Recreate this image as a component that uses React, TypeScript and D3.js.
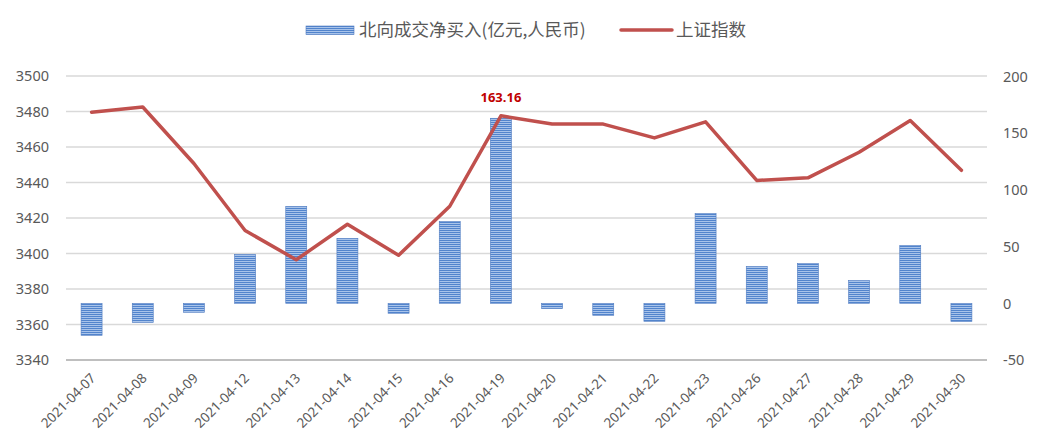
import React from "react";
import * as d3 from "d3";

const dates = [
  "2021-04-07", "2021-04-08", "2021-04-09", "2021-04-12", "2021-04-13", "2021-04-14",
  "2021-04-15", "2021-04-16", "2021-04-19", "2021-04-20", "2021-04-21", "2021-04-22",
  "2021-04-23", "2021-04-26", "2021-04-27", "2021-04-28", "2021-04-29", "2021-04-30",
];
const northbound = [
  -28.3, -16.8, -7.9, 43.0, 85.4, 57.2, -8.8, 72.2, 163.16, -4.7, -10.6, -15.9,
  79.2, 32.4, 35.0, 20.0, 51.0, -16.2,
];
const shIndex = [
  3479.63, 3482.55, 3450.68, 3412.95, 3396.47, 3416.5, 3398.99, 3426.62, 3477.55,
  3472.94, 3472.92, 3465.11, 3474.17, 3441.17, 3442.61, 3457.07, 3474.9, 3446.86,
];
const leftTicks = [3340, 3360, 3380, 3400, 3420, 3440, 3460, 3480, 3500];
const rightTicks = [-50, 0, 50, 100, 150, 200];
const barLabel = "北向成交净买入(亿元,人民币)";
const lineLabel = "上证指数";
const peakLabel = "163.16";

const W = 1041;
const H = 445;
const plotLeft = 66;
const plotRight = 987;
const plotTop = 76;
const plotBottom = 360;

export default function App() {
  const x = d3.scaleBand<string>().domain(dates).range([plotLeft, plotRight]).paddingInner(0).paddingOuter(0);
  const yL = d3.scaleLinear().domain([3340, 3500]).range([plotBottom, plotTop]);
  const yR = d3.scaleLinear().domain([-50, 200]).range([plotBottom, plotTop + 0.5]);
  const bw = x.bandwidth() * 0.41;
  const cx = (d: string) => (x(d) as number) + x.bandwidth() / 2;
  const line = d3
    .line<number>()
    .x((_, i) => cx(dates[i]))
    .y((v) => yL(v));
  const peakIdx = northbound.indexOf(163.16);
  const font = "'Noto Sans', 'Noto Sans CJK SC', sans-serif";
  const cjk = "'Noto Sans CJK SC', 'Noto Sans', sans-serif";

  return (
    <svg width={W} height={H} style={{ position: "absolute", left: 0, top: 0, background: "#fff" }}>
      <defs>
        <pattern id="stripes" width="4" height="2" patternUnits="userSpaceOnUse">
          <rect x="0" y="0" width="4" height="2" fill="#5284CC" />
          <rect x="0" y="1" width="4" height="1" fill="#A8C3EA" />
        </pattern>
      </defs>
      {/* gridlines */}
      {leftTicks.map((t) => (
        <line
          key={t}
          x1={plotLeft}
          x2={plotRight}
          y1={yL(t)}
          y2={yL(t)}
          stroke={t === 3340 ? "#BFBFBF" : "#D9D9D9"}
          strokeWidth={t === 3340 ? 2 : 1.5}
        />
      ))}
      {/* left tick labels */}
      {leftTicks.map((t) => (
        <text key={t} x={49} y={yL(t)} dy="0.36em" textAnchor="end" fontFamily={font} fontSize={14.5} fill="#595959">
          {t}
        </text>
      ))}
      {/* right tick labels */}
      {rightTicks.map((t) => (
        <text key={t} x={1003} y={yR(t)} dy="0.36em" textAnchor="start" fontFamily={font} fontSize={14.5} fill="#595959">
          {t}
        </text>
      ))}
      {/* bars */}
      {northbound.map((v, i) => {
        const y0 = yR(0);
        const y1 = yR(v);
        return (
          <rect
            key={dates[i]}
            x={cx(dates[i]) - bw / 2}
            y={Math.min(y0, y1)}
            width={bw}
            height={Math.abs(y1 - y0)}
            fill="url(#stripes)"
            stroke="#4F7BC0"
            strokeWidth={0.6}
          />
        );
      })}
      {/* line */}
      <path d={line(shIndex) || ""} fill="none" stroke="#C0504D" strokeWidth={3.5} strokeLinejoin="round" strokeLinecap="round" />
      {/* peak label */}
      <text x={cx(dates[peakIdx])} y={102} textAnchor="middle" fontFamily={font} fontSize={13} fontWeight="bold" fill="#C00000">
        {peakLabel}
      </text>
      {/* x labels */}
      {dates.map((d) => (
        <text
          key={d}
          transform={`translate(${cx(d) + 5},${379}) rotate(-45)`}
          textAnchor="end"
          fontFamily={font}
          fontSize={13.5}
          fill="#595959"
        >
          {d}
        </text>
      ))}
      {/* legend */}
      <rect x={306} y={26} width={48} height={8.5} fill="url(#stripes)" stroke="#4F7BC0" strokeWidth={0.6} />
      <text x={359} y={36} fontFamily={cjk} fontSize={17.5} fill="#595959">
        {barLabel}
      </text>
      <line x1={621} x2={672} y1={30} y2={30} stroke="#C0504D" strokeWidth={3.5} strokeLinecap="round" />
      <text x={676} y={36} fontFamily={cjk} fontSize={17.5} fill="#595959">
        {lineLabel}
      </text>
    </svg>
  );
}
